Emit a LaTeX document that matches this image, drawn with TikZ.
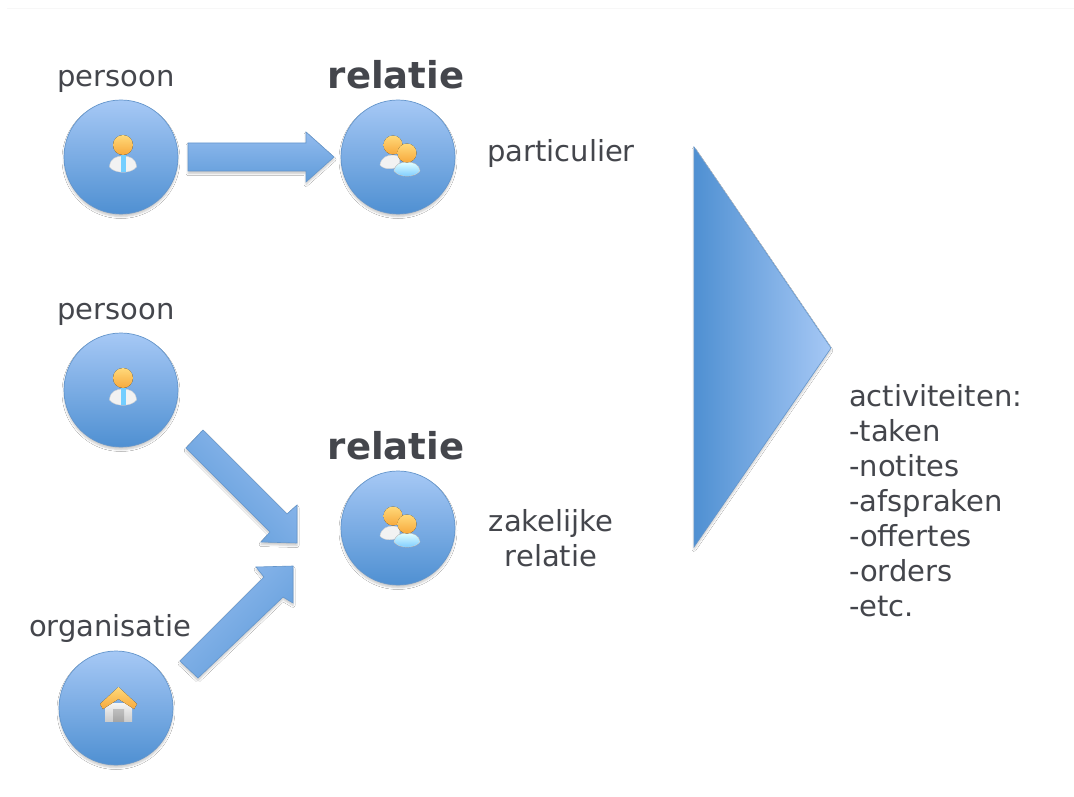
\documentclass[tikz,border=0pt]{standalone}
\usepackage{fontspec}
\setmainfont{DejaVu Sans}
\usetikzlibrary{shadows.blur}
\definecolor{bluetop}{HTML}{A6C8F5}
\definecolor{bluebot}{HTML}{4F90D2}
\definecolor{blueedge}{HTML}{6496CC}
\definecolor{arrlight}{HTML}{93BBEE}
\definecolor{arrdark}{HTML}{5F9CDA}
\definecolor{txt}{HTML}{44464C}
\definecolor{skinlight}{HTML}{FFD97A}
\definecolor{skindark}{HTML}{F7A93C}
\tikzset{
  x=1pt,y=-1pt,
  softshadow/.style={blur shadow={shadow xshift=0pt,shadow yshift=-2.5pt,shadow blur steps=5,shadow blur radius=2pt,shadow opacity=22}},
  bubble/.style={circle,draw=blueedge,line width=.7pt,minimum size=114pt,inner sep=0pt,
    top color=bluetop,bottom color=bluebot,softshadow},
  arrowshape/.style={draw=blueedge,line width=.6pt,line join=miter,softshadow},
  lbl/.style={font=\fontsize{29}{35}\selectfont,text=txt,inner sep=0pt,align=center},
  head/.style={font=\fontsize{37}{42}\selectfont\bfseries,text=txt,inner sep=0pt},
  skinfill/.style={top color=skinlight,bottom color=skindark},
}
\newcommand{\personicon}[3]{% x y tie colour
  \fill[white!90!gray,draw=gray!35,line width=.4pt] (#1-13.5,#2+22) .. controls (#1-13,#2+13) and (#1-6,#2+11) .. (#1,#2+11)
     .. controls (#1+6,#2+11) and (#1+13,#2+13) .. (#1+13.5,#2+22) .. controls (#1+8,#2+29) and (#1-8,#2+29) .. (#1-13.5,#2+22) -- cycle;
  \fill[#3] (#1-2.5,#2+10) rectangle (#1+2.5,#2+27);
  \fill[skinfill] (#1,#2) circle (10);
}
\newcommand{\groupicon}[2]{% x y at centre of the icon
  \fill[white!90!gray,draw=gray!35,line width=.4pt] (#1-18,#2+10) .. controls (#1-17,#2+2) and (#1-10,#2) .. (#1-5,#2)
     .. controls (#1+1,#2) and (#1+3,#2+3) .. (#1+1,#2+10) .. controls (#1-3,#2+15) and (#1-14,#2+15) .. (#1-18,#2+10) -- cycle;
  \fill[skinfill] (#1-5,#2-10) circle (9.5);
  \fill[top color=cyan!12,bottom color=blue!40!cyan!55,draw=gray!35,line width=.4pt] (#1-4,#2+16) .. controls (#1-3,#2+9) and (#1+3,#2+7) .. (#1+9,#2+7)
     .. controls (#1+15,#2+7) and (#1+21,#2+9) .. (#1+22,#2+16) .. controls (#1+17,#2+23) and (#1+1,#2+23) .. (#1-4,#2+16) -- cycle;
  \fill[skinfill] (#1+9,#2-2) circle (9.5);
}
\begin{document}
\begin{tikzpicture}
\useasboundingbox (0,0) rectangle (1074,797);
\fill[white] (0,0) rectangle (1074,797);
\draw[gray!6,line width=.8pt] (7,8) -- (1074,8);

\node[bubble] (p1) at (121,157) {};
\node[bubble] (r1) at (398,157) {};
\node[bubble] (p2) at (121,390) {};
\node[bubble] (r2) at (398,528) {};
\node[bubble] (o1) at (116,708) {};

\personicon{123}{145}{blue!35!cyan!55}
\groupicon{398}{155}
\personicon{123}{378}{blue!35!cyan!55}
\groupicon{398}{526}

% house icon
\fill[top color=gray!8,bottom color=gray!40] (105,703) rectangle (132,721);
\fill[top color=gray!50,bottom color=gray!70] (113,709) rectangle (124,721);
\fill[top color=skinlight,bottom color=skindark] (100,704) -- (118.5,687) -- (137,704) -- (134,709) -- (118.5,699) -- (103,709) -- cycle;

% arrows
\draw[arrowshape,top color=arrlight,bottom color=arrdark] (188,143) -- (306,143) -- (306,132) -- (334,157) -- (306,182) -- (306,171) -- (188,171) -- cycle;
\draw[arrowshape,shading=axis,top color=arrlight,bottom color=arrdark,shading angle=-45] (203,430) -- (287,514) -- (297,505) -- (297,543) -- (261,542) -- (270,532) -- (186,448) -- cycle;
\draw[arrowshape,shading=axis,top color=arrlight,bottom color=arrdark,shading angle=45] (180,661) -- (264,577) -- (256,567) -- (293,566) -- (293,603) -- (283,597) -- (198,678) -- cycle;
\draw[arrowshape,left color=bluebot,right color=bluetop] (694,147) -- (831,348) -- (694,547) -- cycle;

% labels
\node[lbl] (lp1) at (116,81) {persoon};
\node[head] (lr1) at (396,75) {relatie};
\node[lbl] (lpart) at (561,153) {particulier};
\node[lbl] (lp2) at (116,314) {persoon};
\node[head] (lr2) at (396,446) {relatie};
\node[lbl] (lzak) at (551,538) {zakelijke\\relatie};
\node[lbl] (lorg) at (110,628) {organisatie};
\node[lbl,align=left,anchor=north west] (lact) at (849,384) {activiteiten:\\-taken\\-notites\\-afspraken\\-offertes\\-orders\\-etc.};
\end{tikzpicture}
\end{document}
